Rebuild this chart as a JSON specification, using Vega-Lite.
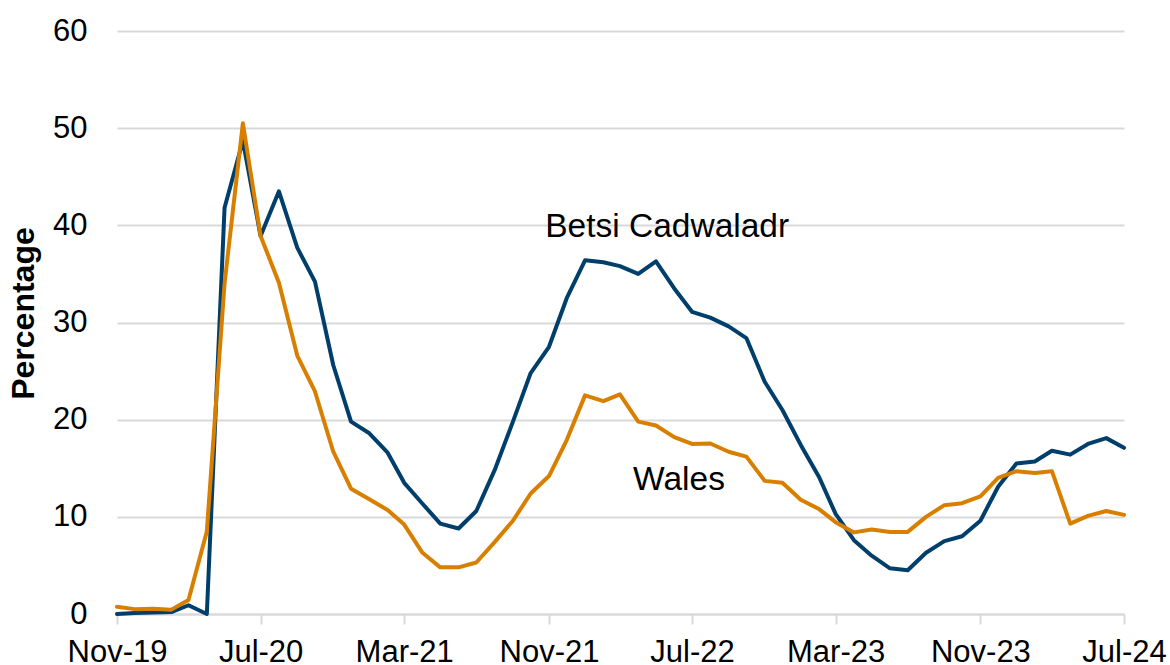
{
  "$schema": "https://vega.github.io/schema/vega-lite/v6.json",
  "width": 1007,
  "height": 583,
  "autosize": {"type": "none"},
  "padding": {"left": 117, "top": 31, "right": 46, "bottom": 51},
  "background": "white",
  "config": {
    "view": {"stroke": null},
    "font": "Liberation Sans"
  },
  "layer": [
    {
      "data": {
        "values": [
          {"month": "2019-11-01", "Betsi Cadwaladr": 0.0, "Wales": 0.75},
          {"month": "2019-12-01", "Betsi Cadwaladr": 0.1, "Wales": 0.5},
          {"month": "2020-01-01", "Betsi Cadwaladr": 0.15, "Wales": 0.55},
          {"month": "2020-02-01", "Betsi Cadwaladr": 0.2, "Wales": 0.45},
          {"month": "2020-03-01", "Betsi Cadwaladr": 0.9, "Wales": 1.45},
          {"month": "2020-04-01", "Betsi Cadwaladr": 0.0, "Wales": 8.5},
          {"month": "2020-05-01", "Betsi Cadwaladr": 41.8, "Wales": 34.0},
          {"month": "2020-06-01", "Betsi Cadwaladr": 48.7, "Wales": 50.5},
          {"month": "2020-07-01", "Betsi Cadwaladr": 38.9, "Wales": 38.9},
          {"month": "2020-08-01", "Betsi Cadwaladr": 43.5, "Wales": 34.1},
          {"month": "2020-09-01", "Betsi Cadwaladr": 37.7, "Wales": 26.6},
          {"month": "2020-10-01", "Betsi Cadwaladr": 34.2, "Wales": 22.9},
          {"month": "2020-11-01", "Betsi Cadwaladr": 25.6, "Wales": 16.7},
          {"month": "2020-12-01", "Betsi Cadwaladr": 19.8, "Wales": 12.9},
          {"month": "2021-01-01", "Betsi Cadwaladr": 18.6, "Wales": 11.8},
          {"month": "2021-02-01", "Betsi Cadwaladr": 16.6, "Wales": 10.7},
          {"month": "2021-03-01", "Betsi Cadwaladr": 13.5, "Wales": 9.2},
          {"month": "2021-04-01", "Betsi Cadwaladr": 11.35, "Wales": 6.3},
          {"month": "2021-05-01", "Betsi Cadwaladr": 9.3, "Wales": 4.8},
          {"month": "2021-06-01", "Betsi Cadwaladr": 8.8, "Wales": 4.8},
          {"month": "2021-07-01", "Betsi Cadwaladr": 10.6, "Wales": 5.3},
          {"month": "2021-08-01", "Betsi Cadwaladr": 14.8, "Wales": 7.4},
          {"month": "2021-09-01", "Betsi Cadwaladr": 19.8, "Wales": 9.6},
          {"month": "2021-10-01", "Betsi Cadwaladr": 24.8, "Wales": 12.4},
          {"month": "2021-11-01", "Betsi Cadwaladr": 27.5, "Wales": 14.2},
          {"month": "2021-12-01", "Betsi Cadwaladr": 32.5, "Wales": 17.9},
          {"month": "2022-01-01", "Betsi Cadwaladr": 36.4, "Wales": 22.5},
          {"month": "2022-02-01", "Betsi Cadwaladr": 36.2, "Wales": 21.9},
          {"month": "2022-03-01", "Betsi Cadwaladr": 35.8, "Wales": 22.6},
          {"month": "2022-04-01", "Betsi Cadwaladr": 35.0, "Wales": 19.8},
          {"month": "2022-05-01", "Betsi Cadwaladr": 36.3, "Wales": 19.4},
          {"month": "2022-06-01", "Betsi Cadwaladr": 33.5, "Wales": 18.2},
          {"month": "2022-07-01", "Betsi Cadwaladr": 31.1, "Wales": 17.5},
          {"month": "2022-08-01", "Betsi Cadwaladr": 30.5, "Wales": 17.55},
          {"month": "2022-09-01", "Betsi Cadwaladr": 29.6, "Wales": 16.7},
          {"month": "2022-10-01", "Betsi Cadwaladr": 28.4, "Wales": 16.2},
          {"month": "2022-11-01", "Betsi Cadwaladr": 23.9, "Wales": 13.7},
          {"month": "2022-12-01", "Betsi Cadwaladr": 21.0, "Wales": 13.5},
          {"month": "2023-01-01", "Betsi Cadwaladr": 17.4, "Wales": 11.75},
          {"month": "2023-02-01", "Betsi Cadwaladr": 14.1, "Wales": 10.8},
          {"month": "2023-03-01", "Betsi Cadwaladr": 10.3, "Wales": 9.45},
          {"month": "2023-04-01", "Betsi Cadwaladr": 7.6, "Wales": 8.4},
          {"month": "2023-05-01", "Betsi Cadwaladr": 6.0, "Wales": 8.7},
          {"month": "2023-06-01", "Betsi Cadwaladr": 4.7, "Wales": 8.45},
          {"month": "2023-07-01", "Betsi Cadwaladr": 4.5, "Wales": 8.45},
          {"month": "2023-08-01", "Betsi Cadwaladr": 6.3, "Wales": 10.0},
          {"month": "2023-09-01", "Betsi Cadwaladr": 7.5, "Wales": 11.2},
          {"month": "2023-10-01", "Betsi Cadwaladr": 8.0, "Wales": 11.4},
          {"month": "2023-11-01", "Betsi Cadwaladr": 9.6, "Wales": 12.1},
          {"month": "2023-12-01", "Betsi Cadwaladr": 13.1, "Wales": 14.0},
          {"month": "2024-01-01", "Betsi Cadwaladr": 15.5, "Wales": 14.7},
          {"month": "2024-02-01", "Betsi Cadwaladr": 15.7, "Wales": 14.5},
          {"month": "2024-03-01", "Betsi Cadwaladr": 16.8, "Wales": 14.7},
          {"month": "2024-04-01", "Betsi Cadwaladr": 16.4, "Wales": 9.3},
          {"month": "2024-05-01", "Betsi Cadwaladr": 17.5, "Wales": 10.1},
          {"month": "2024-06-01", "Betsi Cadwaladr": 18.1, "Wales": 10.6},
          {"month": "2024-07-01", "Betsi Cadwaladr": 17.1, "Wales": 10.2}
        ]
      },
      "transform": [
        {"fold": ["Betsi Cadwaladr", "Wales"], "as": ["series", "value"]}
      ],
      "mark": {"type": "line", "strokeWidth": 4, "strokeJoin": "round", "strokeCap": "round"},
      "encoding": {
        "x": {
          "field": "month",
          "type": "temporal",
          "scale": {
            "type": "utc",
            "nice": false,
            "domain": [
              {"year": 2019, "month": 11, "date": 1, "utc": true},
              {"year": 2024, "month": 7, "date": 1, "utc": true}
            ]
          },
          "axis": {
            "title": null,
            "labelExpr": "utcFormat(datum.value, '%b-%y')",
            "values": [
              {"year": 2019, "month": 11, "date": 1, "utc": true},
              {"year": 2020, "month": 7, "date": 1, "utc": true},
              {"year": 2021, "month": 3, "date": 1, "utc": true},
              {"year": 2021, "month": 11, "date": 1, "utc": true},
              {"year": 2022, "month": 7, "date": 1, "utc": true},
              {"year": 2023, "month": 3, "date": 1, "utc": true},
              {"year": 2023, "month": 11, "date": 1, "utc": true},
              {"year": 2024, "month": 7, "date": 1, "utc": true}
            ],
            "grid": false,
            "domain": true,
            "domainColor": "#d9d9d9",
            "domainWidth": 2,
            "ticks": true,
            "tickColor": "#d9d9d9",
            "tickWidth": 2,
            "tickSize": 10,
            "labelPadding": 13,
            "labelFontSize": 31,
            "labelFont": "Liberation Sans",
            "labelColor": "#000000",
            "labelFlush": false,
            "labelOverlap": false
          }
        },
        "y": {
          "field": "value",
          "type": "quantitative",
          "scale": {"domain": [0, 60], "nice": false},
          "axis": {
            "title": "Percentage",
            "titleFont": "Liberation Sans",
            "titleFontSize": 32,
            "titleFontWeight": "bold",
            "titleColor": "#000000",
            "titleAngle": -90,
            "titleBaseline": "alphabetic",
            "titleAlign": "center",
            "titleX": -84,
            "titleY": 282,
            "values": [0, 10, 20, 30, 40, 50, 60],
            "grid": true,
            "gridColor": "#d9d9d9",
            "gridWidth": 2,
            "domain": false,
            "ticks": false,
            "tickSize": 0,
            "labelPadding": 30,
            "labelFontSize": 31,
            "labelFont": "Liberation Sans",
            "labelColor": "#000000"
          }
        },
        "color": {
          "field": "series",
          "type": "nominal",
          "scale": {"domain": ["Betsi Cadwaladr", "Wales"], "range": ["#003f6b", "#d97f00"]},
          "legend": null
        }
      }
    },
    {
      "data": {
        "values": [
          {"month": "2022-05-20", "value": 38.8, "label": "Betsi Cadwaladr"},
          {"month": "2022-06-09", "value": 12.75, "label": "Wales"}
        ]
      },
      "mark": {"type": "text", "font": "Liberation Sans", "fontSize": 33.5, "color": "#000000", "align": "center", "baseline": "alphabetic"},
      "encoding": {
        "x": {"field": "month", "type": "temporal"},
        "y": {"field": "value", "type": "quantitative"},
        "text": {"field": "label"}
      }
    }
  ]
}
